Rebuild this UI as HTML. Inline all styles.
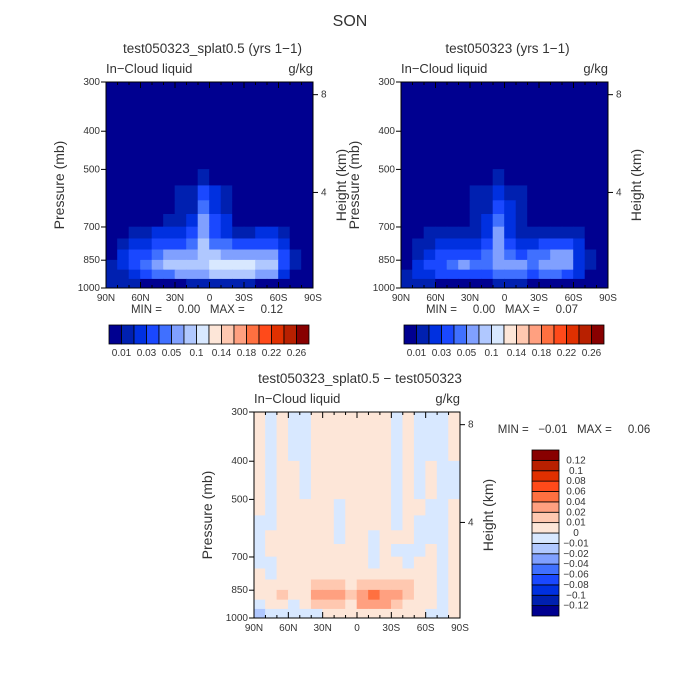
<!DOCTYPE html>
<html><head><meta charset="utf-8"><style>
body{margin:0;background:#fff}
svg{display:block;font-family:"Liberation Sans",sans-serif}
text{white-space:pre}
</style></head><body>
<svg id="fig" width="700" height="700" viewBox="0 0 700 700"></svg>
<script>
// ---------- data ----------
const lats = [85,75,65,55,45,35,25,15,5,-5,-15,-25,-35,-45,-55,-65,-75,-85];
const presEdges = [300,400,500,550,600,650,700,750,800,850,900,950,1000];
const fieldThresholds = [0.01,0.02,0.03,0.04,0.05,0.07,0.1,0.12,0.14,0.16,0.18,0.2,0.22,0.24,0.26];
const fieldLabels = ["0.01","0.03","0.05","0.1","0.14","0.18","0.22","0.26"];
const diffThresholds = [-0.12,-0.1,-0.08,-0.06,-0.04,-0.02,-0.01,0,0.01,0.02,0.04,0.06,0.08,0.1,0.12];
const diffLabels = ["-0.12","-0.1","-0.08","-0.06","-0.04","-0.02","-0.01","0","0.01","0.02","0.04","0.06","0.08","0.1","0.12"];
const pressureTicks = [300,400,500,700,850,1000];
const heightTicks = [8,4];
const latTicks = ["90N","60N","30N","0","30S","60S","90S"];
const N = null;
const caseA = [
[0,0,0,0,0,0,0,0,0,0,0,0,0,0,0,0,0,0],
[0,0,0,0,0,0,0,0,0,0,0,0,0,0,0,0,0,0],
[0,0,0,0,0,0,0,0,.015,0,0,0,0,0,0,0,0,0],
[0,0,0,0,0,0,.011,.012,.03,.02,.012,0,0,0,0,0,0,0],
[0,0,0,0,0,.008,.012,.015,.04,.025,.015,0,0,0,0,0,0,0],
[0,0,0,0,0,.012,.015,.02,.05,.03,.02,0,0,0,0,0,0,0],
[0,.005,.012,.015,.02,.02,.025,.03,.06,.035,.025,.015,.015,.02,.02,.015,.005,0],
[0,.012,.02,.025,.03,.03,.035,.04,.07,.045,.04,.035,.03,.035,.035,.025,.008,0],
[.005,.02,.03,.035,.04,.05,.055,.06,.08,.07,.06,.06,.06,.06,.055,.03,.01,0],
[.01,.02,.03,.04,.05,.07,.075,.08,.09,.1,.11,.105,.1,.08,.07,.03,.012,0],
[.01,.018,.025,.03,.04,.045,.05,.055,.06,.07,.075,.07,.07,.065,.05,.025,.008,0],
[.012,.012,.01,.008,.008,.008,.008,.01,.012,.012,.012,.01,.01,.008,.005,.005,.005,0]];
const caseB = [
[0,0,0,0,0,0,0,0,0,0,0,0,0,0,0,0,0,0],
[0,0,0,0,0,0,0,0,0,0,0,0,0,0,0,0,0,0],
[0,0,0,0,0,0,0,0,.012,0,0,0,0,0,0,0,0,0],
[0,0,0,0,0,0,.011,.012,.02,.015,.012,0,0,0,0,0,0,0],
[0,0,0,0,0,0,.012,.015,.03,.02,.015,0,0,0,0,0,0,0],
[0,0,0,0,0,.008,.015,.02,.04,.025,.015,0,0,0,0,0,0,0],
[0,.008,.012,.012,.012,.012,.015,.02,.05,.025,.012,.012,.012,.015,.015,.012,.005,0],
[0,.012,.015,.02,.02,.02,.025,.03,.05,.03,.025,.025,.03,.035,.035,.02,.005,0],
[.005,.015,.025,.03,.03,.035,.035,.04,.055,.04,.035,.04,.045,.055,.05,.025,.01,0],
[.008,.02,.03,.035,.04,.05,.04,.04,.06,.05,.055,.045,.055,.06,.05,.025,.01,0],
[.01,.02,.025,.03,.03,.035,.035,.035,.045,.04,.04,.035,.04,.04,.035,.02,.008,0],
[.01,.012,.01,.008,.008,.008,.008,.008,.01,.01,.01,.008,.008,.008,.005,.005,.005,0]];
const diffAB = [
[.005,-.005,.005,-.005,-.005,.005,.005,.005,.005,.005,.005,.005,-.005,.005,-.005,-.005,-.005,.005],
[.005,-.005,.005,.005,-.005,.005,.005,.005,.005,.005,.005,.005,-.005,.005,-.005,.005,-.005,-.005],
[.005,-.005,.005,.005,.005,.005,.005,-.005,.005,.005,.005,.005,-.005,.005,.005,-.005,-.005,.005],
[-.005,-.005,.005,.005,.005,.005,.005,-.005,.005,.005,.005,.005,-.005,.005,-.005,-.005,-.005,.005],
[-.005,.005,.005,.005,.005,.005,.005,-.005,.005,.005,-.005,.005,.005,.005,-.005,-.005,-.005,.005],
[-.005,.005,.005,.005,.005,.005,.005,.005,.005,.005,-.005,.005,-.005,-.005,-.005,.005,-.005,.005],
[-.005,-.005,.005,.005,.005,.005,.005,.005,.005,.005,-.005,.005,.005,-.005,.005,.005,-.005,.005],
[.005,-.005,.005,.005,.005,.005,.005,.005,.005,.005,.005,.005,.005,.005,.005,.005,-.005,.005],
[.005,.005,.005,.005,.005,.015,.015,.015,.005,.015,.015,.015,.015,.015,.005,.005,-.005,.005],
[.005,.005,.015,.005,.005,.025,.025,.025,.015,.035,.045,.035,.035,.015,.005,.005,-.005,.005],
[-.005,.005,.005,-.005,.005,.015,.015,.015,.005,.025,.025,.025,.015,.005,.005,.005,-.005,.005],
[-.015,-.005,-.005,-.005,-.005,-.005,.005,.005,.005,.005,.005,.005,.005,.005,.005,-.005,-.005,.005]];
const colors = ["#000090","#0020b0","#0030e0","#1a48ff","#4070ff","#80a0ff","#b0c8ff","#d8e8ff","#fde6d8","#ffc8b0","#ffa080","#ff7040","#ff4a1a","#e03000","#b82000","#880000"];

// ---------- drawing ----------
const NS="http://www.w3.org/2000/svg", svg=document.getElementById('fig');
function el(tag, attrs, parent, text){const e=document.createElementNS(NS,tag);for(const k in attrs)e.setAttribute(k,attrs[k]);if(text!==undefined)e.textContent=text;(parent||svg).appendChild(e);return e;}
function txt(x,y,s,size,anchor,parent,name,rot){const t=el('text',{x:x,y:y,'font-size':size,'text-anchor':anchor||'middle',fill:'#333'},parent,s);


if(rot)t.setAttribute('transform','rotate(-90 '+x+' '+y+')');return t;}
function level(v,th){let k=0;for(const t of th)if(v>=t)k++;return k;}

function panel(x0,y0,w,h,data,th,title,name){
  const g=el('g',{});
  
  
  const xs=lat=>x0+(90-lat)/180*w;
  const ys=p=>y0+Math.log(p/300)/Math.log(1000/300)*h;
  data.forEach((row,r)=>row.forEach((v,c)=>{
    if(v===null)return;
    const rc=el('rect',{x:xs(lats[c]+5)-0.3,y:ys(presEdges[r])-0.3,width:w/18+0.6,height:ys(presEdges[r+1])-ys(presEdges[r])+0.6,fill:colors[level(v,th)]},g);
    
    
  }));
  el('rect',{x:x0,y:y0,width:w,height:h,fill:'none',stroke:'#000','stroke-width':1},g);
  for(let lat=90;lat>=-90;lat-=10){const x=xs(lat),L=(lat%30===0)?6:3;
    el('line',{x1:x,y1:y0+h,x2:x,y2:y0+h-L,stroke:'#000'},g);el('line',{x1:x,y1:y0,x2:x,y2:y0+L,stroke:'#000'},g);}
  latTicks.forEach((s,i)=>txt(x0+i*w/6,y0+h+13,s,10,'middle',g,'lat-tick-label'));
  pressureTicks.forEach(p=>{const y=ys(p);el('line',{x1:x0-5,y1:y,x2:x0,y2:y,stroke:'#000'},g);txt(x0-6,y+3,String(p),10,'end',g,'pressure-tick-label');});
  heightTicks.forEach(km=>{const p=1013*Math.exp(-km/7);const y=ys(p);el('line',{x1:x0+w,y1:y,x2:x0+w+5,y2:y,stroke:'#000'},g);txt(x0+w+8,y+3,String(km),10,'start',g,'height-tick-label');});
  txt(x0-42,y0+h/2,'Pressure (mb)',14,'middle',g,'y-axis-title',true);
  txt(x0+w+33,y0+h/2,'Height (km)',14,'middle',g,'right-axis-title',true);
  txt(x0,y0-9,'In\u2212Cloud liquid',13,'start',g,'variable-label');
  txt(x0+w,y0-9,'g/kg',13,'end',g,'units-label');
  txt(x0+w/2+3,y0-29,title,13.5,'middle',g,'panel-title');
}
function hbar(x0,y0,w,h,name){
  const g=el('g',{});
  const bw=w/colors.length;
  colors.forEach((c,i)=>{const r=el('rect',{x:x0+i*bw,y:y0,width:bw,height:h,fill:c,stroke:'#000','stroke-width':0.8},g);
    });
  fieldLabels.forEach((s,i)=>txt(x0+(2*i+1)*bw,y0+h+12,s,10,'middle',g,'colorbar-label'));
}
function vbar(x0,y0,w,h,name){
  const g=el('g',{});
  const bh=h/colors.length;
  colors.forEach((c,i)=>{const r=el('rect',{x:x0,y:y0+h-(i+1)*bh,width:w,height:bh,fill:c,stroke:'#000','stroke-width':0.8},g);
    });
  diffLabels.forEach((s,i)=>txt(x0+w+17,y0+h-(i+1)*bh+3,s.replace('-','\u2212'),10,'middle',g,'colorbar-label'));
}
txt(350,26,'SON',16,'middle',svg,'figure-title');
panel(106,82,207,206,caseA,fieldThresholds,'test050323_splat0.5 (yrs 1\u22121)','panel-case-a');
panel(401,82,207,206,caseB,fieldThresholds,'test050323 (yrs 1\u22121)','panel-case-b');
panel(254,412,206,206,diffAB,diffThresholds,'test050323_splat0.5 \u2212 test050323','panel-difference');
txt(207,313,'MIN =     0.00   MAX =     0.12',11.5,'middle',svg,'stats-case-a');
txt(502,313,'MIN =     0.00   MAX =     0.07',11.5,'middle',svg,'stats-case-b');
txt(574,433,'MIN =   \u22120.01   MAX =     0.06',11.5,'middle',svg,'stats-difference');
hbar(109,325,200,19,'colorbar-case-a');
hbar(404,325,200,19,'colorbar-case-b');
vbar(532,450,27,166,'colorbar-difference');
</script>
</body></html>
